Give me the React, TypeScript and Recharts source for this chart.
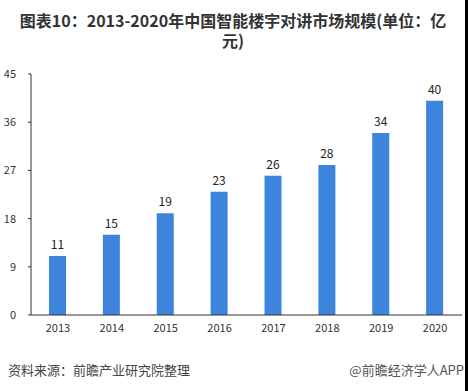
import React from "react";
import { BarChart, Bar, XAxis, YAxis, LabelList } from "recharts";

const years = ["2013", "2014", "2015", "2016", "2017", "2018", "2019", "2020"];
const values = [11, 15, 19, 23, 26, 28, 34, 40];
const yTicks = [0, 9, 18, 27, 36, 45];

const data = years.map((y, i) => ({ year: y, value: values[i] }));

const FONT = '"Noto Sans CJK SC", "Noto Sans", sans-serif';

export default function App() {
  return (
    <div
      style={{
        position: "absolute",
        left: 0,
        top: 0,
        width: 468,
        height: 391,
        background: "#ffffff",
        overflow: "hidden",
        fontFamily: FONT,
      }}
    >
      <div
        style={{
          position: "absolute",
          left: 10,
          top: 10,
          width: 446,
          textAlign: "center",
          fontSize: 16,
          fontWeight: 700,
          lineHeight: "20px",
          color: "#333333",
        }}
      >
        图表10：2013-2020年中国智能楼宇对讲市场规模(单位：亿元)
      </div>
      <div style={{ position: "absolute", left: 0, top: 0 }}>
        <BarChart
          width={468}
          height={391}
          data={data}
          margin={{ top: 74, right: 6, left: 0, bottom: 56 }}
          barCategoryGap="34%"
        >
          <XAxis
            dataKey="year"
            height={20}
            tickLine={false}
            tickSize={0}
            tickMargin={9}
            axisLine={{ stroke: "#333333", strokeWidth: 1 }}
            tick={{ fill: "#333333", fontSize: 11, fontFamily: FONT }}
            interval={0}
          />
          <YAxis
            width={31}
            domain={[0, 45]}
            ticks={yTicks}
            interval={0}
            tickSize={3}
            tickMargin={12}
            axisLine={{ stroke: "#333333", strokeWidth: 1 }}
            tickLine={{ stroke: "#333333" }}
            tick={{ fill: "#333333", fontSize: 11, fontFamily: FONT }}
          />
          <Bar dataKey="value" fill="#3C84DC" barSize={17} isAnimationActive={false}>
            <LabelList
              dataKey="value"
              position="top"
              offset={7}
              style={{ fill: "#222222", fontSize: 12, fontFamily: FONT }}
            />
          </Bar>
        </BarChart>
      </div>
      <div
        style={{
          position: "absolute",
          left: 8,
          top: 361,
          fontSize: 13,
          lineHeight: "18px",
          color: "#444444",
          whiteSpace: "nowrap",
        }}
      >
        资料来源：前瞻产业研究院整理
      </div>
      <div
        style={{
          position: "absolute",
          right: 4,
          top: 361,
          fontSize: 13,
          lineHeight: "18px",
          color: "#555555",
          whiteSpace: "nowrap",
        }}
      >
        @前瞻经济学人APP
      </div>
      <div
        style={{
          position: "absolute",
          left: 465,
          top: 0,
          width: 3,
          height: 391,
          background: "#000000",
        }}
      />
    </div>
  );
}
